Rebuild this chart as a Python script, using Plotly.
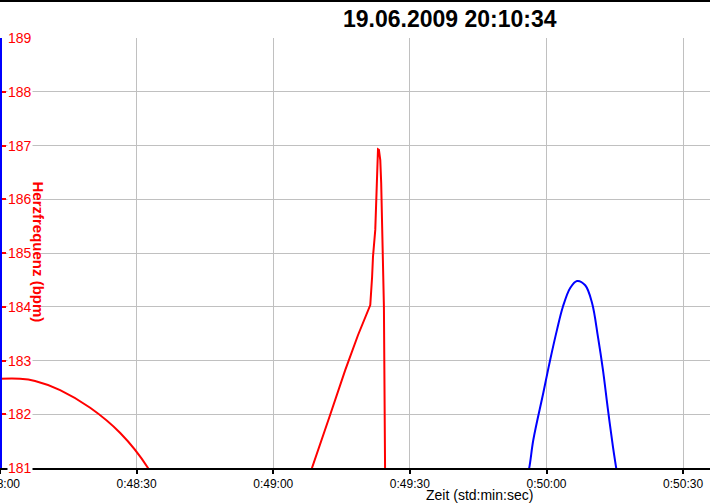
import plotly.graph_objects as go

# time in seconds (0:48:00 = 2880 s)
red1_t = [2880.0, 2884.4, 2887.7, 2893.2, 2899.8, 2906.4, 2912.5, 2914.0]
red1_bpm = [182.66, 182.66, 182.62, 182.45, 182.12, 181.65, 181.0, 180.75]

red2_t = [2947.0, 2948.5, 2952.5, 2955.8, 2958.6, 2961.3, 2961.7, 2961.9, 2962.4,
          2962.6, 2962.8, 2963.0, 2963.2, 2963.5, 2963.7, 2963.9, 2964.1, 2964.3, 2964.6]
red2_bpm = [180.6, 181.0, 181.99, 182.82, 183.47, 184.03, 184.55, 184.93, 185.43,
            186.04, 186.73, 186.93, 186.92, 186.73, 186.30, 185.61, 184.81, 184.0, 180.4]

blue_t = [2995.1, 2996.2, 2997.1, 2999.3, 3000.8, 3002.3, 3003.6, 3005.2, 3006.7,
          3008.5, 3010.0, 3011.3, 3012.4, 3013.5, 3014.6, 3015.3, 3016.2]
blue_bpm = [180.6, 181.0, 181.52, 182.40, 183.01, 183.57, 184.0, 184.35, 184.48,
            184.40, 184.07, 183.44, 182.82, 182.08, 181.39, 181.0, 180.5]

x_tickvals = [2880, 2910, 2940, 2970, 3000, 3030]
x_ticktext = ["0:48:00", "0:48:30", "0:49:00", "0:49:30", "0:50:00", "0:50:30"]
y_tickvals = [181, 182, 183, 184, 185, 186, 187, 188, 189]

fig = go.Figure()
fig.add_trace(go.Scatter(x=red1_t, y=red1_bpm, mode="lines", line=dict(color="#ff0000", width=2, shape="spline"), hoverinfo="skip"))
fig.add_trace(go.Scatter(x=red2_t, y=red2_bpm, mode="lines", line=dict(color="#ff0000", width=2), hoverinfo="skip"))
fig.add_trace(go.Scatter(x=blue_t, y=blue_bpm, mode="lines", line=dict(color="#0000ff", width=2, shape="spline"), hoverinfo="skip"))

annotations = [
    dict(text="<b>19.06.2009 20:10:34</b>", xref="paper", yref="paper",
         x=450/710, y=(468-19)/430, xanchor="center", yanchor="middle",
         showarrow=False, font=dict(size=23, color="black")),
    dict(text="<b>Herzfrequenz (bpm)</b>", xref="paper", yref="paper",
         x=37.5/710, y=(468-252)/430, xanchor="center", yanchor="middle",
         textangle=90, showarrow=False, font=dict(size=15, color="#ff0000")),
    dict(text="Zeit (std:min:sec)", xref="paper", yref="paper",
         x=479/710, y=(468-495)/430, xanchor="center", yanchor="middle",
         showarrow=False, font=dict(size=14, color="black")),
]
for v in y_tickvals:
    annotations.append(dict(text=str(v), xref="paper", yref="y", x=7/710, y=v,
                            xanchor="left", yanchor="middle", showarrow=False,
                            bgcolor="white", borderpad=0,
                            font=dict(size=14, color="#ff0000")))

fig.update_layout(
    width=710, height=504,
    margin=dict(l=0, r=0, t=38, b=36),
    paper_bgcolor="white", plot_bgcolor="white",
    showlegend=False,
    font=dict(family="Liberation Sans, Arial, sans-serif", color="black"),
    xaxis=dict(
        range=[2880, 3035.9], tickvals=x_tickvals, ticktext=x_ticktext,
        showgrid=True, gridcolor="#c0c0c0", gridwidth=1,
        showline=True, linecolor="black", linewidth=2,
        ticks="outside", ticklen=4, tickwidth=2, tickcolor="black",
        ticklabeloverflow="allow",
        tickfont=dict(size=12, color="black"), zeroline=False, automargin=False,
    ),
    yaxis=dict(
        range=[181, 189], tickvals=y_tickvals, showticklabels=False,
        showgrid=True, gridcolor="#c0c0c0", gridwidth=1,
        showline=False,
        ticks="inside", ticklen=6, tickwidth=2, tickcolor="#ff0000",
        zeroline=False, automargin=False,
    ),
    annotations=annotations,
    shapes=[
        dict(type="line", xref="paper", yref="paper", x0=0, x1=1,
             y0=(468-1)/430, y1=(468-1)/430, line=dict(color="black", width=2)),
        dict(type="rect", xref="paper", yref="paper", x0=0, x1=2/710,
             y0=0, y1=1, fillcolor="#0000ff", line=dict(width=0), layer="above"),
    ],
)

fig.write_html("out.html", config={"displayModeBar": False},
               post_script="document.body.style.margin='0';document.body.style.overflow='hidden';")
